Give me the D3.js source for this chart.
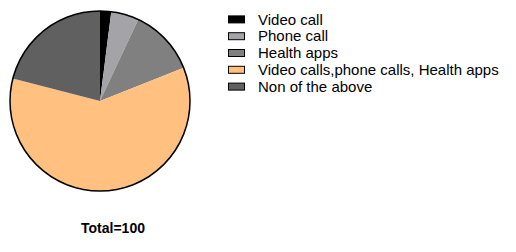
<!DOCTYPE html>
<html><head><meta charset="utf-8">
<script src="https://cdn.jsdelivr.net/npm/d3@7"></script>
<style>body{margin:0;background:#fff;}svg{display:block;}</style>
</head><body>
<script>
const categories = ["Video call", "Phone call", "Health apps", "Video calls,phone calls, Health apps", "Non of the above"];
const values = [2, 5, 12, 60, 21];
const colors = ["#000000", "#a4a4a8", "#808080", "#ffc080", "#606060"];
const totalLabel = "Total=100";

const W = 516, H = 252;
const svg = d3.select("body").append("svg").attr("width", W).attr("height", H);

const cx = 100, cy = 101, r = 90;
const data = categories.map((c, i) => ({ c, v: values[i], col: colors[i] }));
const pie = d3.pie().value(d => d.v).sort(null);
const arc = d3.arc().innerRadius(0).outerRadius(r);
const g = svg.append("g").attr("transform", `translate(${cx},${cy})`);
g.selectAll("path").data(pie(data)).join("path")
  .attr("d", arc).attr("fill", d => d.data.col).attr("stroke", "none");
g.append("circle").attr("r", r).attr("fill", "none").attr("stroke", "#000").attr("stroke-width", 1.5);

const y = d3.scaleBand().domain(categories).range([11, 95]);
const leg = svg.append("g");
leg.selectAll("rect").data(data).join("rect")
  .attr("x", 228.5).attr("y", d => y(d.c) + y.bandwidth() / 2 - 3.5)
  .attr("width", 16).attr("height", 7)
  .attr("fill", d => d.col).attr("stroke", "#000").attr("stroke-width", 1);
leg.selectAll("text").data(data).join("text")
  .attr("x", 258).attr("y", d => y(d.c) + y.bandwidth() / 2)
  .attr("dy", "0.35em")
  .attr("font-family", "Liberation Sans, Arial, sans-serif").attr("font-size", 15)
  .attr("fill", "#000").text(d => d.c);

svg.append("text").attr("x", 113).attr("y", 228).attr("dy", "0.35em")
  .attr("text-anchor", "middle")
  .attr("font-family", "Liberation Sans, Arial, sans-serif").attr("font-size", 14)
  .attr("font-weight", "bold").text(totalLabel);
</script>
</body></html>
